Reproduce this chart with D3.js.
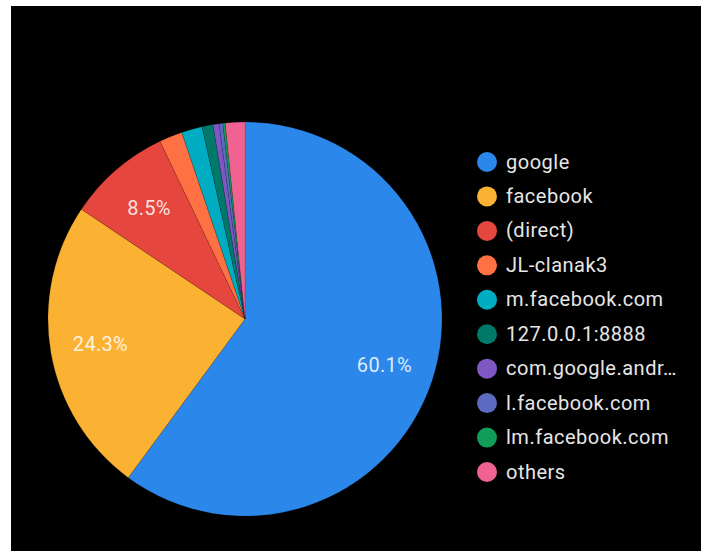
<!DOCTYPE html>
<html>
<head>
<meta charset="utf-8">
<script src="https://cdn.jsdelivr.net/npm/d3@7"></script>
<style>
  html, body { margin: 0; padding: 0; background: #fff; }
  svg { display: block; }
</style>
</head>
<body>
<svg id="chart" width="701" height="551"></svg>
<script>
const categories = ["google", "facebook", "(direct)", "JL-clanak3", "m.facebook.com", "127.0.0.1:8888", "com.google.andr…", "l.facebook.com", "lm.facebook.com", "others"];
const values = [60.1, 24.3, 8.5, 1.9, 1.7, 0.9, 0.5, 0.3, 0.2, 1.6];
const colors = ["#2B87EA", "#FBB233", "#E5463D", "#FF7043", "#00ACC1", "#00796B", "#7E57C2", "#5C6BC0", "#0F9D58", "#F06292"];

const data = categories.map((c, i) => ({ name: c, value: values[i], color: colors[i] }));

const svg = d3.select("#chart");
svg.append("rect").attr("x", 11).attr("y", 6).attr("width", 690).attr("height", 545).attr("fill", "#000");

const cx = 245, cy = 319, R = 197;
const pie = d3.pie().value(d => d.value).sort(null);
const arc = d3.arc().innerRadius(0).outerRadius(R);
const labelArc = d3.arc().innerRadius(R * 0.745).outerRadius(R * 0.745);

const g = svg.append("g").attr("transform", `translate(${cx},${cy})`);
const arcs = pie(data);
g.selectAll("path").data(arcs).join("path")
  .attr("d", arc)
  .attr("fill", d => d.data.color)
  .attr("stroke", "rgba(0,0,0,0.2)")
  .attr("stroke-width", 0.6);

g.selectAll("text").data(arcs.filter(d => d.data.value >= 5)).join("text")
  .attr("transform", d => `translate(${labelArc.centroid(d)})`)
  .attr("text-anchor", "middle")
  .attr("dy", "0.35em")
  .attr("font-family", "Roboto, sans-serif")
  .attr("font-size", 20)
  .attr("letter-spacing", 0.3)
  .attr("fill", "rgba(255,255,255,0.85)")
  .text(d => d.data.value.toFixed(1) + "%");

const legend = svg.append("g");
const ly = d3.scalePoint().domain(categories).range([162, 472]);
const items = legend.selectAll("g").data(data).join("g")
  .attr("transform", d => `translate(487,${ly(d.name)})`);
items.append("circle").attr("r", 10).attr("fill", d => d.color);
items.append("text")
  .attr("x", 19)
  .attr("dy", "0.33em")
  .attr("font-family", "Roboto, sans-serif")
  .attr("font-size", 20)
  .attr("letter-spacing", 0.5)
  .attr("fill", "#e6e6e6")
  .text(d => d.name);
</script>
</body>
</html>
